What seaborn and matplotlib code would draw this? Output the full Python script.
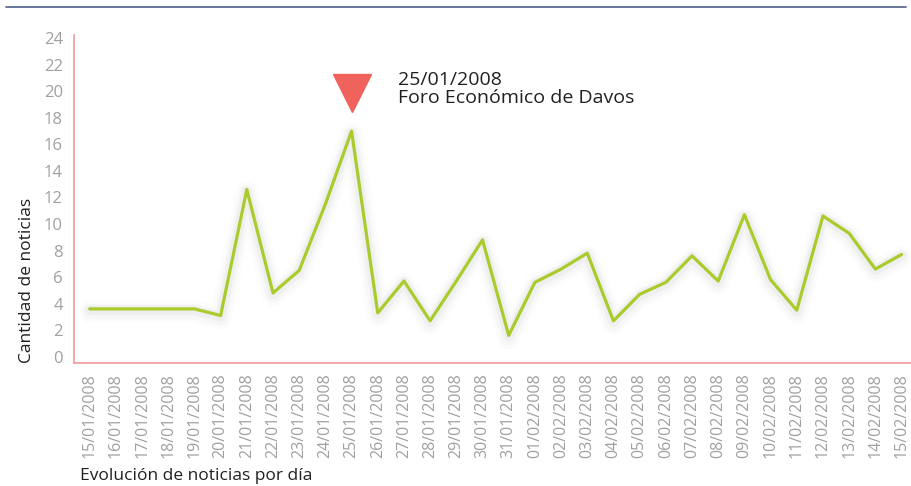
import matplotlib
matplotlib.use("Agg")
import matplotlib.pyplot as plt
import matplotlib.patheffects as pe
from matplotlib.lines import Line2D
import pandas as pd
import seaborn as sns

# noticias por día, 15/01/2008 - 15/02/2008
fechas = ["15/01/2008", "16/01/2008", "17/01/2008", "18/01/2008", "19/01/2008",
          "20/01/2008", "21/01/2008", "22/01/2008", "23/01/2008", "24/01/2008",
          "25/01/2008", "26/01/2008", "27/01/2008", "28/01/2008", "29/01/2008",
          "30/01/2008", "31/01/2008", "01/02/2008", "02/02/2008", "03/02/2008",
          "04/02/2008", "05/02/2008", "06/02/2008", "07/02/2008", "08/02/2008",
          "09/02/2008", "10/02/2008", "11/02/2008", "12/02/2008", "13/02/2008",
          "14/02/2008", "15/02/2008"]
noticias = [3.6, 3.6, 3.6, 3.6, 3.6, 3.1, 12.6, 4.8, 6.5, 11.5,
            17.0, 3.3, 5.7, 2.7, 5.7, 8.8, 1.6, 5.6, 6.6, 7.8,
            2.7, 4.7, 5.6, 7.6, 5.7, 10.7, 5.8, 3.5, 10.6, 9.3,
            6.6, 7.7]
y_ticks = list(range(0, 25, 2))

evento_fecha = "25/01/2008"
evento_texto = "25/01/2008\nForo Económico de Davos"
evento_y = 19.9

verde = "#a9cc2c"
rojo = "#f0625c"
gris = "#a0a0a0"

sns.set_style("white")
plt.rcParams["font.family"] = ["Open Sans", "DejaVu Sans"]

df = pd.DataFrame({"dia": range(len(fechas)), "fecha": fechas, "noticias": noticias})

fig = plt.figure(figsize=(9.12, 4.86), dpi=100)
ax = fig.add_axes([0.0811, 0.2525, 0.9189, 0.6755])

sns.lineplot(data=df, x="dia", y="noticias", color=verde, linewidth=2.3, ax=ax)
linea = ax.lines[-1]
linea.set_solid_joinstyle("round")
linea.set_solid_capstyle("round")
linea.set_path_effects([
    pe.Stroke(linewidth=16, foreground="black", alpha=0.012, offset=(0, -2)),
    pe.Stroke(linewidth=11, foreground="black", alpha=0.02, offset=(0, -2)),
    pe.Stroke(linewidth=7, foreground="black", alpha=0.03, offset=(0, -1)),
    pe.Normal(),
])

# marcador del evento
i_evento = fechas.index(evento_fecha)
ax.plot([i_evento], [evento_y], marker="v", markersize=27.5, color=rojo, linestyle="none")
ax.annotate(evento_texto, xy=(i_evento, evento_y), xytext=(46, 22),
            textcoords="offset pixels", ha="left", va="top",
            fontsize=14, color="#231f20", linespacing=1.0)

ax.set_xlim(-0.6, 31.4)
ax.set_ylim(-0.5, 24.25)
ax.set_yticks(y_ticks)
ax.set_xticks(df["dia"])
ax.set_xticklabels(fechas, rotation=90)
ax.set_xlabel("")
ax.set_ylabel("Cantidad de noticias", fontsize=12.5, color="#231f20",
              labelpad=6, loc="bottom")

ax.tick_params(axis="both", colors="#e8474a", length=4, width=1,
               labelcolor=gris, labelsize=12, pad=4)
ax.tick_params(axis="x", labelsize=11.5, pad=3)
for t in ax.xaxis.get_major_ticks()[-3:]:
    t.tick1line.set_visible(False)

for s in ["top", "right"]:
    ax.spines[s].set_visible(False)
for s in ["left", "bottom"]:
    ax.spines[s].set_color("#f29a9a")
    ax.spines[s].set_linewidth(1.2)

fig.text(80 / 912, 1 - 476 / 486, "Evolución de noticias por día",
         fontsize=12.5, color="#231f20", ha="left", va="center")

# línea superior
fig.add_artist(Line2D([6 / 912, 906 / 912], [1 - 7 / 486, 1 - 7 / 486],
                      color="#4f6189", linewidth=1.2))

fig.savefig("out.png", dpi=100)
